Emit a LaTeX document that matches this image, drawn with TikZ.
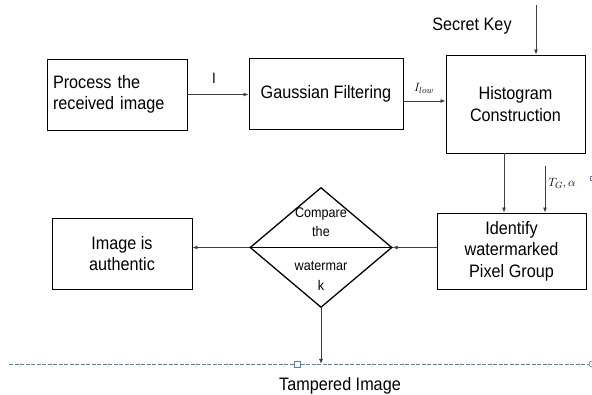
\documentclass[tikz,border=0pt]{standalone}
\usepackage{fontspec}
\setmainfont[FakeStretch=0.9]{Liberation Sans}
\usetikzlibrary{shapes.geometric,arrows.meta,calc}
\begin{document}
\begin{tikzpicture}[x=1pt,y=-1pt,
  blk/.style={draw=black,line width=0.9pt,inner sep=0pt,align=center,
    font=\fontsize{18}{21.5}\selectfont},
  arr/.style={draw=black!75,line width=0.8pt,-{Latex[length=5pt,width=4pt]}},
  lbl/.style={inner sep=0pt,font=\fontsize{18}{21}\selectfont},
  dtext/.style={inner sep=0pt,font=\fontsize{14}{19.5}\selectfont,align=center},
  handle/.style={draw={rgb,255:red,91;green,127;blue,166},fill=white,line width=0.6pt}]
\useasboundingbox (0,0) rectangle (592,395);
% boxes
\node[blk,minimum width=140pt,minimum height=71pt,text width=128pt,align=left] (p) at (117,94.5) {Process the\\received image};
\node[blk,minimum width=154pt,minimum height=71pt] (g) at (326,93.5) {Gaussian Filtering};
\node[blk,minimum width=139pt,minimum height=98pt] (h) at (515.5,104) {Histogram\\Construction};
\node[blk,minimum width=149pt,minimum height=76pt] (w) at (511.5,251) {Identify\\watermarked\\Pixel Group};
\node[blk,minimum width=140pt,minimum height=71pt] (a) at (122,253.5) {Image is\\authentic};
% diamond
\node[draw=black,line width=1.3pt,shape=diamond,minimum width=142pt,minimum height=120pt,inner sep=0pt] (d) at (321,247.5) {};
\node[dtext] (d1) at (321,222) {Compare\\the};
\node[dtext] (d2) at (321,276) {watermar\\k};
% labels
\node[lbl] (key) at (472,26) {Secret Key};
\coordinate (ktop) at (536,5);
\node[inner sep=0pt,font=\fontsize{15}{17}\selectfont] (ilab) at (214,78) {I};
\node[inner sep=0pt,font=\fontsize{13}{15}\selectfont] (llab) at (424,88) {$I_{low}$};
\node[inner sep=0pt,font=\fontsize{13}{15}\selectfont] (tlab) at (562,184) {$T_G,\alpha$};
\node[inner sep=0pt,font=\fontsize{18}{20}\selectfont] (tamp) at (340,386) {Tampered Image};
% connectors
\draw[arr] (p.east) -- (g.west |- p.east);
\draw[arr] ($(g.east)+(0,7.5)$) -- ($(h.west |- g.east)+(0,7.5)$);
\draw[arr] (ktop) -- (ktop |- h.north);
\coordinate (hb) at (504,153);
\draw[arr] (hb) -- (hb |- w.north);
\coordinate (tg) at (545,166);
\draw[arr] (tg) -- (tg |- w.north);
\draw[arr] (w.west |- d.east) -- (d.east);
\draw[line width=1.8pt] (d.east) -- (d.west);
\draw[arr] (d.west) -- (a.east |- d.west);
\coordinate (dl) at (321,364);
\draw[arr] (d.south) -- (dl);
% dashed baseline
\draw[draw={rgb,255:red,91;green,127;blue,166},line width=0.8pt,dash pattern=on 4pt off 1.5pt] (9,364) -- (589,364);
\draw[handle] (294,361) rectangle (300,367);
\draw[handle] (592,364) circle (3pt);
\draw[handle] (590,176) rectangle (594,180);
\end{tikzpicture}
\end{document}
